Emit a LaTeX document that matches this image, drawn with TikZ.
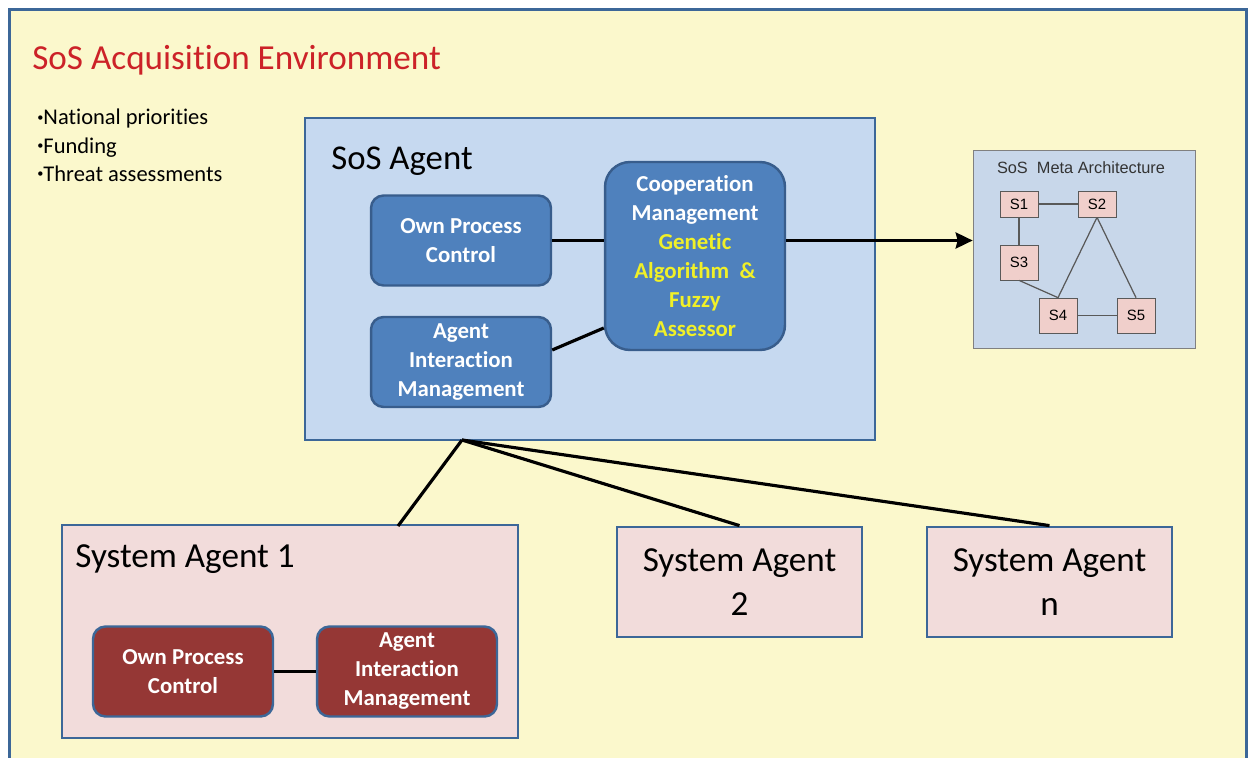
\documentclass[tikz,border=0pt]{standalone}
\usepackage{fontspec}
\setmainfont{Carlito}[Ligatures=NoCommon]
\newfontfamily\arialfont{Liberation Sans}
\usetikzlibrary{positioning,arrows.meta}

\definecolor{umgebungsgelb}{RGB}{251,248,204}
\definecolor{rahmenblau}{RGB}{60,103,152}
\definecolor{hellblau}{RGB}{198,217,240}
\definecolor{mittelblau}{RGB}{79,129,189}
\definecolor{dunkelblau}{RGB}{56,93,140}
\definecolor{rosa}{RGB}{242,220,219}
\definecolor{dunkelrot}{RGB}{149,55,53}
\definecolor{titelrot}{RGB}{204,34,40}
\definecolor{gelbtext}{RGB}{240,240,40}
\definecolor{metablau}{RGB}{200,215,234}
\definecolor{metarosa}{RGB}{240,207,203}

\newcommand{\punkt}{\raisebox{0.35ex}{\fontsize{7}{7}\selectfont\textbullet}}

\begin{document}
\begin{tikzpicture}[x=0.02cm, y=-0.02cm, >={Stealth[length=0.34cm, width=0.32cm, inset=0.04cm]},
    agentbox/.style={draw=rahmenblau, line width=1.6pt, fill=rosa, inner sep=0pt},
    blaubox/.style={draw=dunkelblau, line width=1.4pt, fill=mittelblau, rounded corners=0.25cm,
        text=white, align=center, inner sep=0pt, minimum width=3.6cm, minimum height=1.8cm,
        font=\bfseries\fontsize{13}{16.5}\selectfont},
    rotbox/.style={blaubox, draw=rahmenblau, fill=dunkelrot},
    sbox/.style={draw=black!65, fill=metarosa, inner sep=0pt, minimum width=0.76cm,
        font=\arialfont\fontsize{8.5}{10}\selectfont},
    verbindung/.style={line width=1.8pt}]

    \useasboundingbox (0,0) rectangle (1253,757);
    \clip (0,0) rectangle (1253,757);

    % Umgebung
    \node (umgebung) at (628,404.5) [draw=rahmenblau, fill=umgebungsgelb, line width=1.7pt, minimum width=24.76cm, minimum height=15.82cm] {};
    \node (titel) at (32,70) [anchor=base west, inner sep=0pt, text=titelrot, font=\fontsize{20}{24}\selectfont] {SoS Acquisition Environment};
    \node (liste) at (37,109) [anchor=north west, inner sep=0pt, align=left, font=\fontsize{12.8}{16}\selectfont] {\punkt National priorities\\\punkt Funding\\\punkt Threat assessments};

    % SoS Agent
    \node (sosagent) at (590,279) [agentbox, fill=hellblau, minimum width=11.4cm, minimum height=6.44cm] {};
    \node (sostitel) at (331,169) [anchor=base west, inner sep=0pt, font=\fontsize{19.8}{24}\selectfont] {SoS Agent};
    \node (opc) at (461,240.5) [blaubox] {Own Process\\Control};
    \node (aim) at (461,362) [blaubox] {Agent\\Interaction\\Management};
    \node (cm) at (695,256) [blaubox, rounded corners=0.5cm, minimum width=3.6cm, minimum height=3.76cm] {Cooperation\\Management\\\textcolor{gelbtext}{Genetic}\\\textcolor{gelbtext}{Algorithm~ \&}\\\textcolor{gelbtext}{Fuzzy}\\\textcolor{gelbtext}{Assessor}};

    \draw[verbindung] (opc.east) -- (opc.east -| cm.west);
    \draw[verbindung] ([yshift=0.24cm]aim.east) -- ([yshift=-1.44cm]cm.west);

    % Meta-Architektur
    \node (meta) at (1084,249) [draw=black!50, fill=metablau, minimum width=4.44cm, minimum height=3.96cm] {};
    \node (metatitel) at (1081,173) [anchor=base, inner sep=0pt, text=black!80, font=\arialfont\fontsize{9.3}{10}\selectfont] {SoS~ Meta Architecture};
    \node (s1) at (1019,204) [sbox, minimum height=0.52cm] {S1};
    \node (s2) at (1097,204) [sbox, minimum height=0.52cm] {S2};
    \node (s3) at (1019,262.5) [sbox, minimum height=0.7cm] {S3};
    \node (s4) at (1058,315.5) [sbox, minimum height=0.7cm] {S4};
    \node (s5) at (1136,315.5) [sbox, minimum height=0.7cm] {S5};
    \draw[black!65, line width=0.7pt] (s1) -- (s2);
    \draw[black!65, line width=0.7pt] (s1) -- (s3);
    \draw[black!65, line width=0.7pt] (s3.south) -- (s4.north);
    \draw[black!65, line width=0.7pt] (s2.south) -- (s4.north);
    \draw[black!65, line width=0.7pt] (s2.south) -- (s5.north);
    \draw[black!65, line width=0.7pt] (s4) -- (s5);

    \draw[verbindung, ->] (cm.east |- opc.east) -- (meta.west |- opc.east);

    % System Agents
    \node (sa1) at (290,631.5) [agentbox, minimum width=9.12cm, minimum height=4.26cm] {};
    \node (sa1titel) at (75,567) [anchor=base west, inner sep=0pt, font=\fontsize{20}{24}\selectfont] {System Agent 1};
    \node (opc1) at (183,671.5) [rotbox] {Own Process\\Control};
    \node (aim1) at (407,671.5) [rotbox] {Agent\\Interaction\\Management};
    \draw[verbindung] (opc1.east) -- (aim1.west);

    \node (sa2) at (739.5,582) [agentbox, minimum width=4.9cm, minimum height=2.2cm, align=center, text depth=0pt, font=\fontsize{20}{25}\selectfont] {System Agent\\2};
    \node (san) at (1049.5,582) [agentbox, minimum width=4.9cm, minimum height=2.2cm, align=center, text depth=0pt, font=\fontsize{20}{25}\selectfont] {System Agent\\n};

    % Faecher
    \coordinate (faecher) at (462,440);
    \coordinate (sa1anschluss) at (398,526);
    \draw[verbindung] (faecher) -- (sa1anschluss);
    \draw[verbindung] (faecher) -- (sa2.north);
    \draw[verbindung] (faecher) -- (san.north);

\end{tikzpicture}
\end{document}
